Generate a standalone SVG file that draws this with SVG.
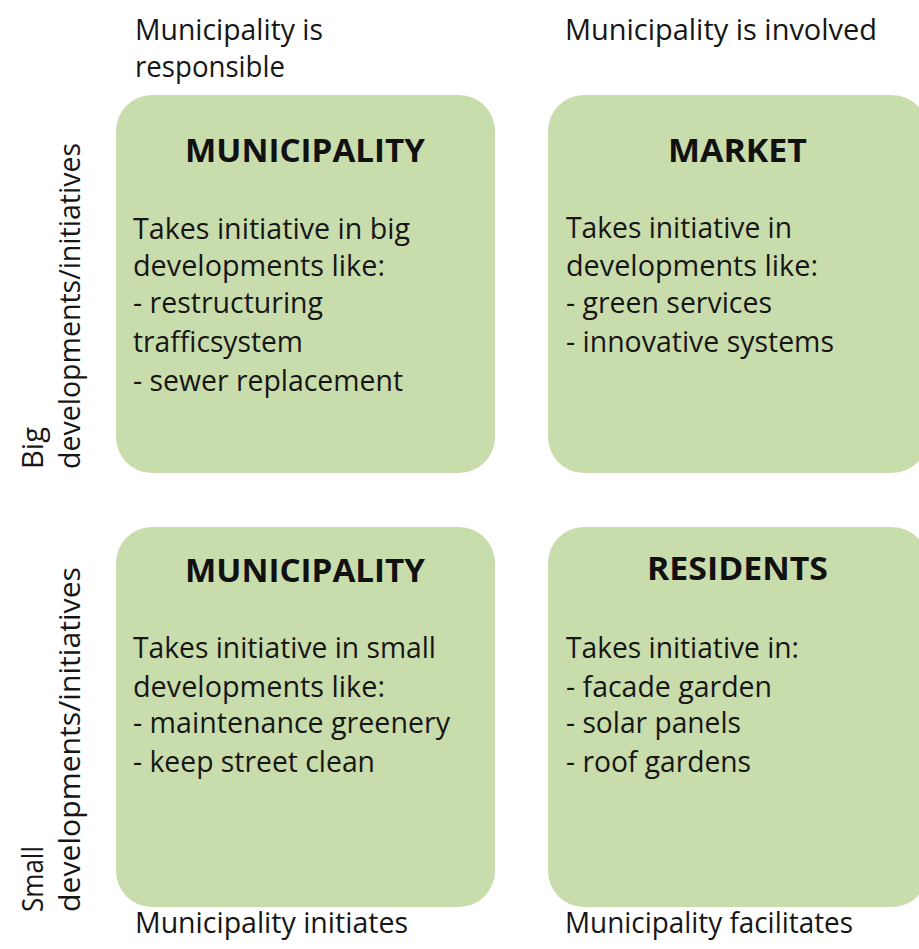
<svg xmlns="http://www.w3.org/2000/svg" width="919" height="949" viewBox="0 0 919 949">
<style>
.box{fill:#c9dcab;}
.t{font-family:"Open Sans","Noto Sans",sans-serif;font-size:29px;fill:#161616;}
.h{font-family:"Open Sans","Noto Sans",sans-serif;font-size:33px;font-weight:bold;fill:#111;text-anchor:middle;}
</style>
<rect width="919" height="949" fill="#ffffff"/>
<g id="axis-labels">
<text class="t" x="135" y="40" textLength="188" lengthAdjust="spacingAndGlyphs">Municipality is</text>
<text class="t" x="135" y="77" textLength="150" lengthAdjust="spacingAndGlyphs">responsible</text>
<text class="t" x="565" y="40" textLength="312" lengthAdjust="spacingAndGlyphs">Municipality is involved</text>
<text class="t" x="135" y="933" textLength="273" lengthAdjust="spacingAndGlyphs">Municipality initiates</text>
<text class="t" x="565" y="933" textLength="288" lengthAdjust="spacingAndGlyphs">Municipality facilitates</text>
<text class="t" transform="translate(43,469) rotate(-90)" textLength="42" lengthAdjust="spacingAndGlyphs">Big</text>
<text class="t" transform="translate(80,469) rotate(-90)" textLength="326" lengthAdjust="spacingAndGlyphs">developments/initiatives</text>
<text class="t" transform="translate(43,912) rotate(-90)" textLength="66" lengthAdjust="spacingAndGlyphs">Small</text>
<text class="t" transform="translate(80,912) rotate(-90)" textLength="345" lengthAdjust="spacingAndGlyphs">developments/initiatives</text>
</g>
<g id="node-municipality-big">
<rect class="box" x="116" y="95" width="379" height="378" rx="36"/>
<text class="h" x="305" y="162" textLength="240" lengthAdjust="spacingAndGlyphs">MUNICIPALITY</text>
<text class="t" x="133" y="239" textLength="277" lengthAdjust="spacingAndGlyphs">Takes initiative in big</text>
<text class="t" x="133" y="276" textLength="252" lengthAdjust="spacingAndGlyphs">developments like:</text>
<text class="t" x="133" y="313" textLength="190" lengthAdjust="spacingAndGlyphs">- restructuring</text>
<text class="t" x="133" y="352" textLength="170" lengthAdjust="spacingAndGlyphs">trafficsystem</text>
<text class="t" x="133" y="391" textLength="270" lengthAdjust="spacingAndGlyphs">- sewer replacement</text>
</g>
<g id="node-market">
<rect class="box" x="548" y="95" width="380" height="378" rx="36"/>
<text class="h" x="737.5" y="162" textLength="139" lengthAdjust="spacingAndGlyphs">MARKET</text>
<text class="t" x="566" y="238" textLength="226" lengthAdjust="spacingAndGlyphs">Takes initiative in</text>
<text class="t" x="566" y="276" textLength="252" lengthAdjust="spacingAndGlyphs">developments like:</text>
<text class="t" x="566" y="313" textLength="206" lengthAdjust="spacingAndGlyphs">- green services</text>
<text class="t" x="566" y="352" textLength="268" lengthAdjust="spacingAndGlyphs">- innovative systems</text>
</g>
<g id="node-municipality-small">
<rect class="box" x="116" y="527" width="379" height="380" rx="36"/>
<text class="h" x="305" y="582" textLength="240" lengthAdjust="spacingAndGlyphs">MUNICIPALITY</text>
<text class="t" x="133" y="658" textLength="303" lengthAdjust="spacingAndGlyphs">Takes initiative in small</text>
<text class="t" x="133" y="697" textLength="252" lengthAdjust="spacingAndGlyphs">developments like:</text>
<text class="t" x="133" y="733" textLength="317" lengthAdjust="spacingAndGlyphs">- maintenance greenery</text>
<text class="t" x="133" y="772" textLength="242" lengthAdjust="spacingAndGlyphs">- keep street clean</text>
</g>
<g id="node-residents">
<rect class="box" x="548" y="527" width="380" height="380" rx="36"/>
<text class="h" x="737.5" y="580" textLength="181" lengthAdjust="spacingAndGlyphs">RESIDENTS</text>
<text class="t" x="566" y="658" textLength="233" lengthAdjust="spacingAndGlyphs">Takes initiative in:</text>
<text class="t" x="566" y="697" textLength="206" lengthAdjust="spacingAndGlyphs">- facade garden</text>
<text class="t" x="566" y="733" textLength="175" lengthAdjust="spacingAndGlyphs">- solar panels</text>
<text class="t" x="566" y="772" textLength="185" lengthAdjust="spacingAndGlyphs">- roof gardens</text>
</g>
<g id="connectors"/>
</svg>
